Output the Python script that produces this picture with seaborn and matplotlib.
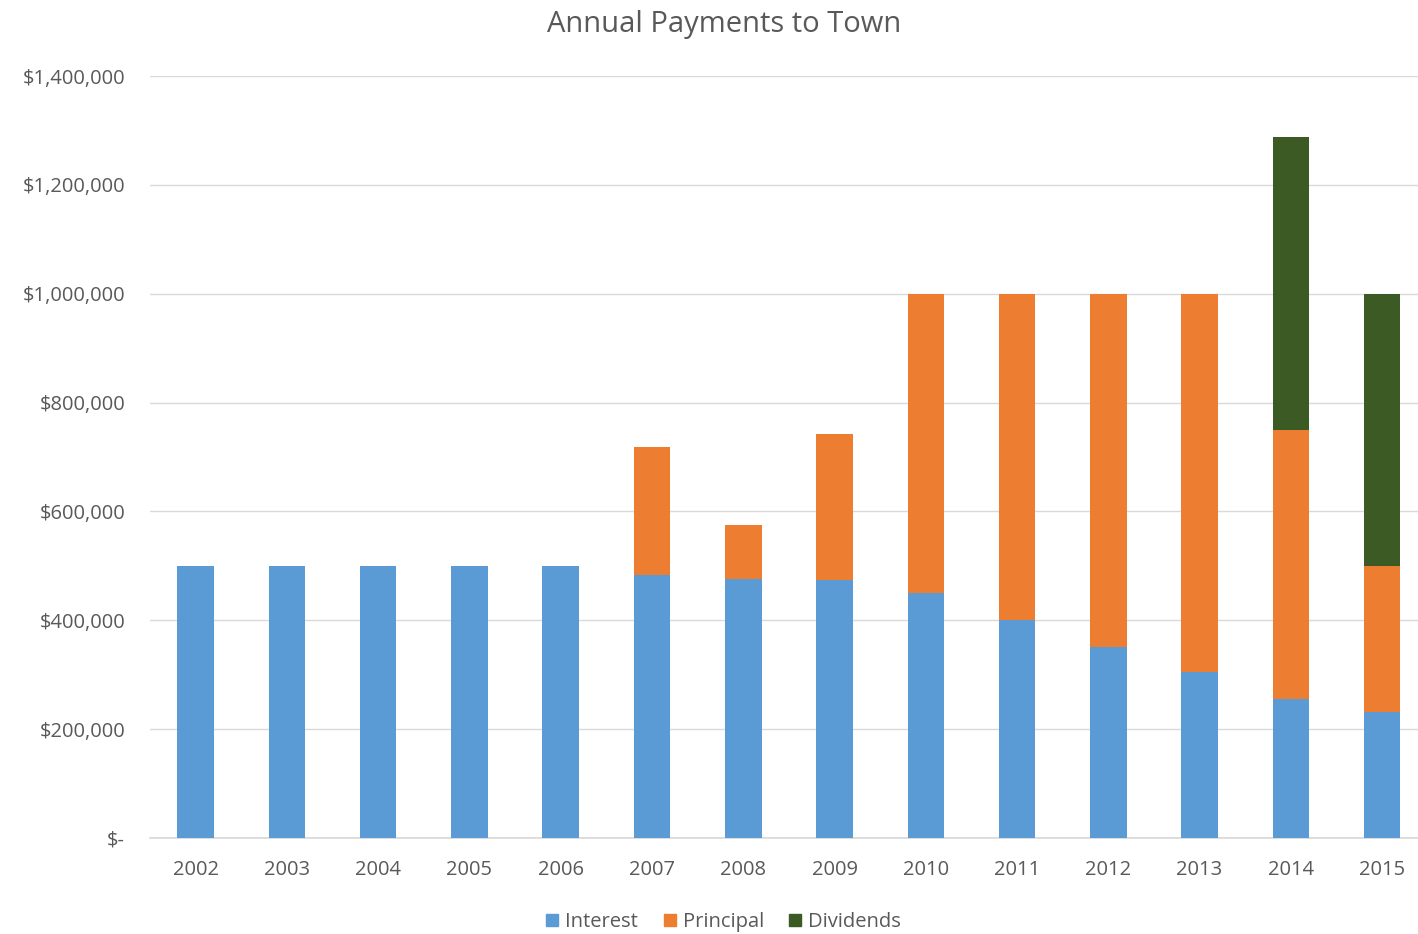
import pandas as pd
import numpy as np
import matplotlib
matplotlib.use('Agg')
import matplotlib.pyplot as plt
import seaborn as sns
from matplotlib.ticker import FuncFormatter
from matplotlib.lines import Line2D

# Data (dollars)
years = ['2002', '2003', '2004', '2005', '2006', '2007', '2008',
         '2009', '2010', '2011', '2012', '2013', '2014', '2015']
interest = [500000, 500000, 500000, 500000, 500000, 483000, 476000,
            474000, 450000, 400000, 350000, 305000, 255000, 231000]
principal = [0, 0, 0, 0, 0, 236000, 99000,
             268000, 550000, 600000, 650000, 695000, 494000, 269000]
dividends = [0, 0, 0, 0, 0, 0, 0,
             0, 0, 0, 0, 0, 539000, 500000]

df = pd.DataFrame({'year': years, 'Interest': interest,
                   'Principal': principal, 'Dividends': dividends})
df['lvl2'] = df['Interest'] + df['Principal']
df['lvl3'] = df['lvl2'] + df['Dividends']

c_int = '#5B9BD5'
c_pri = '#ED7D31'
c_div = '#3B5A24'
grey = '#595959'

sns.set_theme(style='white')
plt.rcParams['font.family'] = ['Open Sans', 'DejaVu Sans']

fig = plt.figure(figsize=(14.18, 9.34), dpi=100)
ax = fig.add_axes([0.1058, 0.1028, 0.894, 0.8158])

# stack by drawing cumulative totals back to front
for col, c in [('lvl3', c_div), ('lvl2', c_pri), ('Interest', c_int)]:
    sns.barplot(data=df, x='year', y=col, order=years, color=c,
                width=0.4, saturation=1, linewidth=0, ax=ax, zorder=3)

ax.set_ylim(0, 1400000)
ax.set_xlim(-0.5, 13.39)
ax.set_yticks(np.arange(0, 1400001, 200000))
ax.yaxis.set_major_formatter(FuncFormatter(
    lambda v, p: '$-' if v == 0 else '${:,.0f}'.format(v)))
ax.grid(axis='y', color='#D9D9D9', linewidth=1, zorder=0)
ax.set_axisbelow(True)
for s in ['top', 'right', 'left']:
    ax.spines[s].set_visible(False)
ax.spines['bottom'].set_color('#D9D9D9')
ax.tick_params(axis='both', length=0, labelsize=14.5, labelcolor=grey)
ax.tick_params(axis='y', pad=18)
ax.tick_params(axis='x', pad=16)
ax.set_xlabel('')
ax.set_ylabel('')

fig.text(0.511, 0.974, 'Annual Payments to Town', ha='center', va='center',
         fontsize=21, color=grey)

handles = [Line2D([], [], marker='s', linestyle='', markersize=9,
                  color=c, label=l)
           for c, l in [(c_int, 'Interest'), (c_pri, 'Principal'),
                        (c_div, 'Dividends')]]
fig.legend(handles=handles, loc='center', bbox_to_anchor=(0.51, 0.013),
           ncol=3, frameon=False, fontsize=14.5, labelcolor=grey,
           handlelength=0.7, handletextpad=0.3, columnspacing=1.2)

fig.savefig('out.png', dpi=100)
